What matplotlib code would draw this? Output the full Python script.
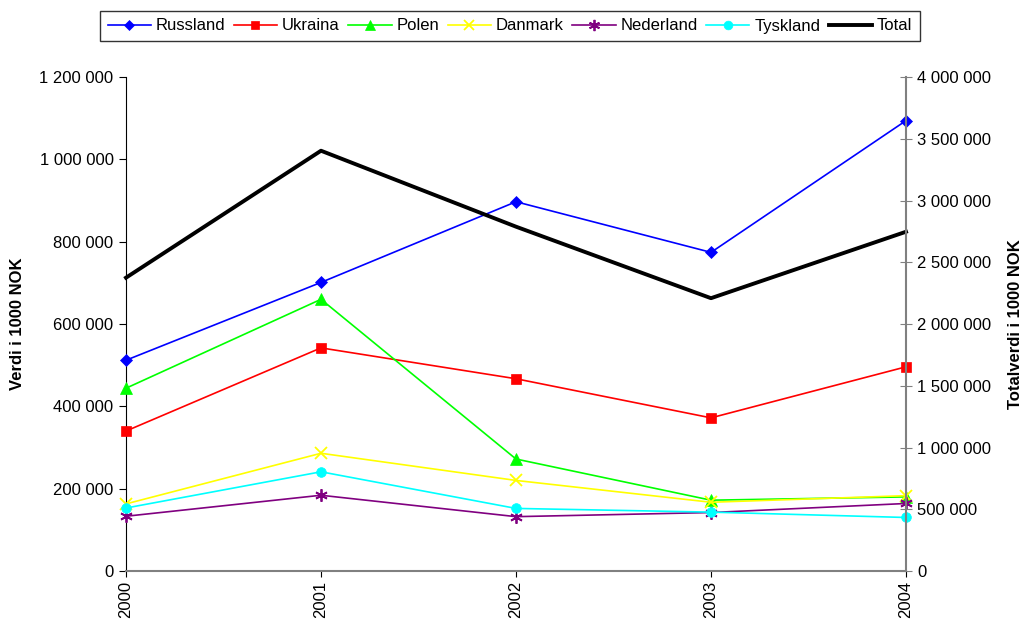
import matplotlib
matplotlib.use("Agg")
import matplotlib.pyplot as plt
from matplotlib.ticker import FuncFormatter, FixedLocator

plt.rcParams['font.family'] = ['Liberation Sans', 'DejaVu Sans']

years = [2000, 2001, 2002, 2003, 2004]
russland = [512000, 701000, 897000, 774000, 1094000]
ukraina = [340000, 542000, 467000, 372000, 496000]
polen = [444000, 660000, 272000, 172000, 180000]
danmark = [163000, 286000, 220000, 167000, 183000]
nederland = [133000, 184000, 132000, 142000, 164000]
tyskland = [153000, 241000, 152000, 143000, 130000]
total = [2375000, 3403000, 2788000, 2209000, 2747000]

series = [
    ("Russland", russland, "#0000FF", "D", 6),
    ("Ukraina", ukraina, "#FF0000", "s", 7),
    ("Polen", polen, "#00FF00", "^", 8),
    ("Danmark", danmark, "#FFFF00", "x", 8),
    ("Nederland", nederland, "#800080", (6, 2, 0), 9),
    ("Tyskland", tyskland, "#00FFFF", "o", 7),
]

FS = 12

fig = plt.figure(figsize=(10.23, 6.22), dpi=100)
ax = fig.add_axes([126/1023, 1-571/622, (906-126)/1023, (571-77)/622])
ax2 = ax.twinx()

handles = []
for name, vals, col, mk, ms in series:
    h, = ax.plot(years, vals, color=col, marker=mk, markersize=ms, linewidth=1.2,
                 markeredgewidth=1.3 if mk in ("x",) or isinstance(mk, tuple) else 0.5,
                 markeredgecolor=col, label=name, clip_on=False, zorder=3)
    handles.append(h)
ht, = ax2.plot(years, total, color="black", linewidth=2.8, label="Total", clip_on=False)
handles.append(ht)

ax.set_xlim(2000, 2004)
ax.set_ylim(0, 1200000)
ax2.set_ylim(0, 4000000)

fmt = FuncFormatter(lambda v, p: f"{int(v):,}".replace(",", " "))
ax.yaxis.set_major_locator(FixedLocator(range(0, 1200001, 200000)))
ax2.yaxis.set_major_locator(FixedLocator(range(0, 4000001, 500000)))
ax.yaxis.set_major_formatter(fmt)
ax2.yaxis.set_major_formatter(fmt)
ax.set_xticks(years)
ax.set_xticklabels([str(y) for y in years], rotation=90)

ax.tick_params(axis='y', labelsize=FS, direction='out', length=5, pad=4)
ax2.tick_params(axis='y', labelsize=FS, direction='inout', length=8, pad=4, color='#808080')
ax.tick_params(axis='x', labelsize=FS, direction='out', length=4, pad=3, color='black')

for sp in ['top']:
    ax.spines[sp].set_visible(False)
    ax2.spines[sp].set_visible(False)
ax2.spines['left'].set_visible(False)
ax2.spines['bottom'].set_visible(False)
ax.spines['right'].set_visible(False)
ax2.spines['right'].set_color('#808080')
ax2.spines['right'].set_linewidth(1.5)
ax.spines['bottom'].set_color('#808080')
ax.spines['bottom'].set_linewidth(1.5)
ax.spines['left'].set_color('black')

ax.set_ylabel("Verdi i 1000 NOK", fontsize=FS, fontweight='bold', labelpad=10)
ax2.set_ylabel("Totalverdi i 1000 NOK", fontsize=FS, fontweight='bold', labelpad=12)

leg = fig.legend(handles=handles, loc='center', bbox_to_anchor=(510/1023, 1-26/622),
                 ncol=7, fontsize=FS, frameon=True, fancybox=False, edgecolor='black',
                 handlelength=2.6, handletextpad=0.3, columnspacing=0.5,
                 borderpad=0.45, markerscale=0.9)
leg.get_frame().set_linewidth(1.0)

fig.savefig("out.png", dpi=100)
